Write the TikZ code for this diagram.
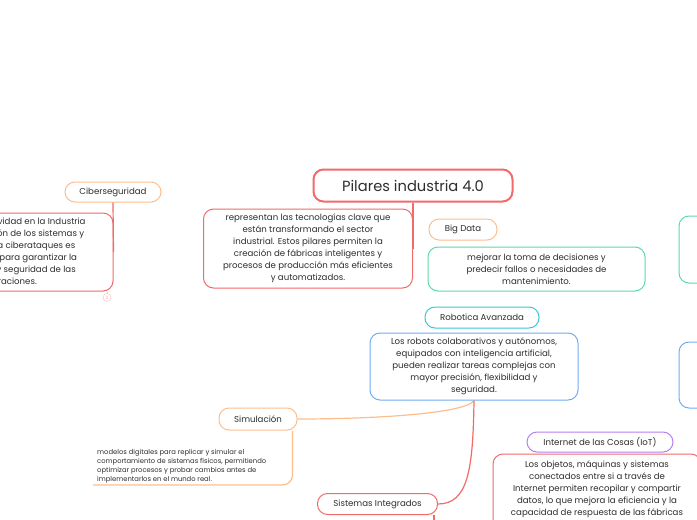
\documentclass[tikz,border=0pt]{standalone}
\usepackage{fontspec}
\setmainfont{Poppins}
\usetikzlibrary{positioning}

\definecolor{redline}{HTML}{F26A6A}
\definecolor{orangeline}{HTML}{FDBE8E}
\definecolor{greenline}{HTML}{5ED9A8}
\definecolor{tealline}{HTML}{3CC7D4}
\definecolor{blueline}{HTML}{6FAEF4}
\definecolor{purpleline}{HTML}{B77FF2}
\definecolor{textgray}{HTML}{2E2E2E}

\begin{document}
\begin{tikzpicture}[x=1pt,y=-1pt,
  box/.style={draw=#1,line width=1pt,rounded corners=10pt,fill=white,
    text=textgray,inner sep=0pt,align=center},
  topic/.style={box=#1,font=\fontsize{8.6}{10}\selectfont},
  desc/.style={box=#1,font=\fontsize{8.6}{12}\selectfont},
  link/.style={draw=#1,line width=1.2pt}]
  \useasboundingbox[fill=white] (0,0) rectangle (697,520);
  \clip (0,0) rectangle (697,520);

  % central topic
  \node[box=redline,line width=2pt,minimum width=199,minimum height=32,
    font=\fontsize{14.7}{16}\selectfont] (pilares) at (413,185.5) {Pilares industria 4.0};
  \node[desc=redline,minimum width=209,minimum height=79] (pilaresdesc) at (308,248.5)
    {representan las tecnologías clave que\\están transformando el sector\\industrial. Estos pilares permiten la\\creación de fábricas inteligentes y\\procesos de producción más eficientes\\y automatizados.};
  \draw[link=redline] (pilares.south -| pilaresdesc.east) -- (pilaresdesc.east);

  % ciberseguridad
  \node[topic=orangeline,minimum width=96,minimum height=20] (ciber) at (113,192) {Ciberseguridad};
  \node[desc=redline,minimum width=208,minimum height=78] (ciberdesc) at (9,252)
    {Proteger la actividad en la Industria\\4.0: la protección de los sistemas y\\datos frente a ciberataques es\\fundamental para garantizar la\\continuidad y seguridad de las\\operaciones.};
  \draw[link=redline] (ciber.south) -- (ciberdesc.east);
  \node[draw=redline!45,circle,inner sep=0pt,minimum size=8,text=redline!60,
    font=\fontsize{4.5}{5}\selectfont] (ciberfold) at (107,297.5) {2};
  \draw[redline!45,line width=0.6pt] (ciberfold.north) -- (ciberfold.north |- ciberdesc.south);

  % big data
  \node[topic=orangeline,minimum width=68,minimum height=21] (bigdata) at (463,229.5) {Big Data};
  \node[desc=greenline,minimum width=217,minimum height=44] (bigdatadesc) at (536.5,269)
    {mejorar la toma de decisiones y\\predecir fallos o necesidades de\\mantenimiento.};

  % cut boxes on the right
  \draw[greenline,line width=1pt,rounded corners=10pt] (710,216) -- (679,216) -- (679,283) -- (710,283);
  \draw[blueline,line width=1pt,rounded corners=10pt] (710,342) -- (679,342) -- (679,408) -- (710,408);

  % robotica
  \node[topic=tealline,minimum width=114,minimum height=21] (robotica) at (482,317.5) {Robotica Avanzada};
  \node[desc=blueline,minimum width=208,minimum height=67] (roboticadesc) at (474,366.5)
    {Los robots colaborativos y autónomos,\\equipados con inteligencia artificial,\\pueden realizar tareas complejas con\\mayor precisión, flexibilidad y\\seguridad.};

  % simulacion
  \node[topic=orangeline,minimum width=78,minimum height=22] (simulacion) at (258,419) {Simulación};
  \node[anchor=south west,inner xsep=4pt,inner ysep=2pt,align=left,text=textgray,
    font=\fontsize{6.8}{9}\selectfont] (simdesc) at (93,485)
    {modelos digitales para replicar y simular el\\comportamiento de sistemas físicos, permitiendo\\optimizar procesos y probar cambios antes de\\implementarlos en el mundo real.};
  \draw[link=orangeline,rounded corners=10pt] ([xshift=-5pt]simulacion.south east) |- (simdesc.south west);
  \draw[link=orangeline] (roboticadesc.south) .. controls (466,413) and (380,419) .. (simulacion.east);

  % sistemas integrados
  \node[topic=redline,minimum width=120,minimum height=21] (sistemas) at (377.5,504) {Sistemas Integrados};
  \draw[link=redline] (roboticadesc.south) .. controls (473,470) and (468,504) .. (sistemas.east);
  \draw[link=redline] ([xshift=-4pt]sistemas.south east) -- ++(0,12);

  % internet de las cosas
  \node[topic=purpleline,minimum width=146,minimum height=20] (iot) at (600,442) {Internet de las Cosas (IoT)};
  \node[desc=redline,minimum width=208,minimum height=82,anchor=north] (iotdesc) at (597,453.5)
    {Los objetos, máquinas y sistemas\\conectados entre si a través de\\Internet permiten recopilar y compartir\\datos, lo que mejora la eficiencia y la\\capacidad de respuesta de las fábricas\\inteligentes.};
\end{tikzpicture}
\end{document}
